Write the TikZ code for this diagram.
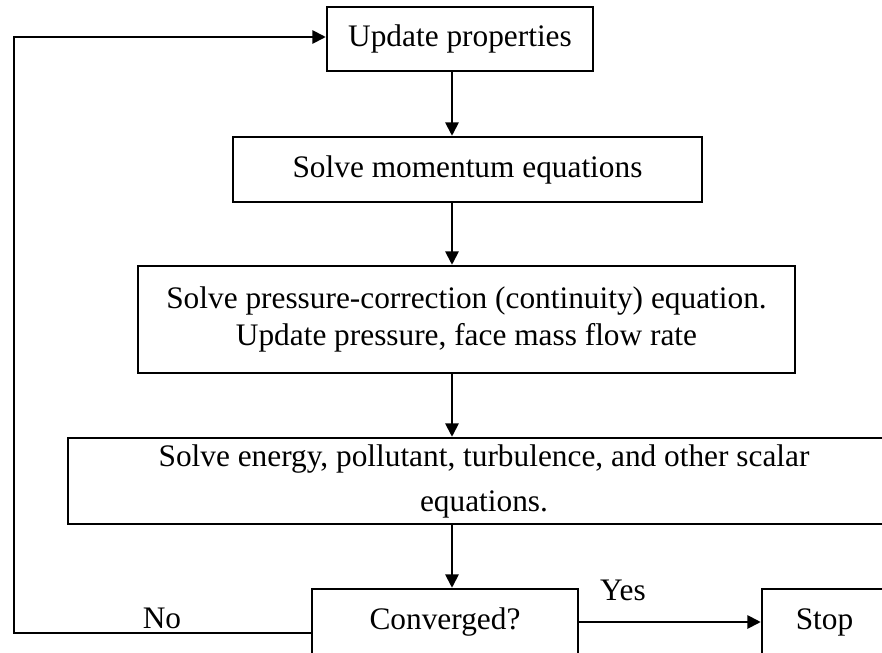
\documentclass[tikz,border=0pt]{standalone}
\usepackage{fontspec}
\setmainfont{Liberation Serif}
\usetikzlibrary{arrows.meta}

\tikzset{every picture/.style={line width=0.75pt}}

\begin{document}
\fontsize{23.5}{27.75}\selectfont
\begin{tikzpicture}[
            x=0.75pt,
            y=0.75pt,
            yscale=-1,
            xscale=1,
            every node/.style={text=black},
            stepbox/.style={draw=black, rectangle, line width=1.9pt, inner sep=1pt, align=center},
            flow/.style={draw=black, line width=1.4pt, -{Triangle[length=10pt,width=10pt]}},
            line width=0.75pt
        ]
            \path[use as bounding box, clip] (0,0) rectangle (882,653);
            % boxes of the loop
            \node[stepbox, minimum width=199.5pt, minimum height=48pt] (update) at (460,39) {Update properties};
            \node[stepbox, minimum width=351.75pt, minimum height=48.75pt] (momentum) at (467.5,169.5) {Solve momentum equations};
            \node[stepbox, minimum width=492.75pt, minimum height=80.25pt] (pressure) at (466.5,319.5) {Solve pressure-correction (continuity) equation.\\ Update pressure, face mass flow rate};
            \node[stepbox, minimum width=624pt, minimum height=64.5pt] (scalar) at (484,481) {Solve energy, pollutant, turbulence, and other scalar\\[6pt] equations.};
            \node[stepbox, minimum width=199.5pt, minimum height=49.5pt] (converged) at (445,622) {Converged?};
            \node[stepbox, minimum width=93.75pt, minimum height=49.5pt] (stop) at (824.5,622) {Stop};
            % connectors
            \coordinate (spine) at (452,0);
            \coordinate (nocorner) at (14,633);
            \draw[flow] (update.south -| spine) -- (momentum.north -| spine);
            \draw[flow] (momentum.south -| spine) -- (pressure.north -| spine);
            \draw[flow] (pressure.south -| spine) -- (scalar.north -| spine);
            \draw[flow] (scalar.south -| spine) -- (converged.north -| spine);
            \draw[flow] (converged.east) -- (stop.west);
            \draw[flow] (converged.west |- nocorner) -- (nocorner) |- ([yshift=-1.5pt]update.west);
            % labels
            \node (yes) at (623,590) {Yes};
            \node (no) at (162,618) {No};
        \end{tikzpicture}
\end{document}
